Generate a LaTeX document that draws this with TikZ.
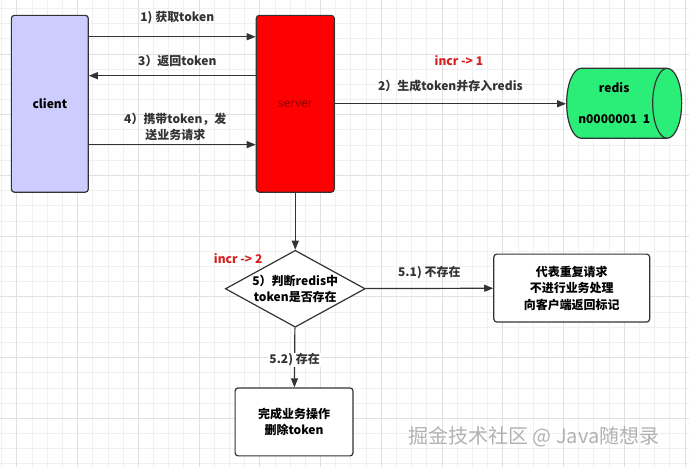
\documentclass[tikz,border=0pt]{standalone}
\usepackage{fontspec}
\setmainfont{Noto Sans CJK SC}
\usetikzlibrary{arrows.meta,positioning,shapes.geometric}
\definecolor{line}{HTML}{333333}
\definecolor{clientc}{HTML}{CCCCFF}
\definecolor{redisc}{HTML}{2BEE78}
\definecolor{incrc}{HTML}{D81E1E}
\definecolor{gridminor}{HTML}{F0F0F0}
\definecolor{gridmajor}{HTML}{E0E0E0}

\begin{document}
\begin{tikzpicture}[x=1pt, y=-1pt, >={Triangle[length=9pt,width=7pt]},
	   font=\fontsize{12}{16.5}\selectfont\bfseries,
	   b/.style={draw=line, line width=1.2pt, rounded corners=3pt, align=center, inner sep=2pt},
	   arr/.style={->, draw=line, line width=1.2pt},
	   lbl/.style={text=line, align=center, inner sep=1pt},
	   inc/.style={text=incrc, inner sep=1pt}]
	  % paper grid
	  \fill[white] (0,0) rectangle (689,467);
	  \foreach \k [evaluate=\k as \gx using 1.3+15.2*\k] in {0,...,45}
	    \draw[gridminor, line width=0.8pt] (\gx,0) -- (\gx,467);
	  \foreach \k [evaluate=\k as \gy using 8+15.2*\k] in {0,...,30}
	    \draw[gridminor, line width=0.8pt] (0,\gy) -- (689,\gy);
	  \foreach \k [evaluate=\k as \gx using 1.3+15.2*\k] in {1,5,...,45}
	    \draw[gridmajor, line width=0.8pt] (\gx,0) -- (\gx,467);
	  \foreach \k [evaluate=\k as \gy using 8+15.2*\k] in {3,7,...,30}
	    \draw[gridmajor, line width=0.8pt] (0,\gy) -- (689,\gy);
	  \useasboundingbox (0,0) rectangle (689,467);

	  \node[b, fill=clientc, minimum width=77, minimum height=177] (client) at (49.5,103.5) {client};
	  \node[b, fill=red, minimum width=78, minimum height=177, right=167pt of client] (server) {\color{red!55!black}\mdseries server};
	  \node[cylinder, draw=line, line width=1.2pt, fill=redisc, minimum width=70, minimum height=115,
	        aspect=0.65, align=center, inner sep=2pt] (redis) at (614.5,103) {redis\\[14pt]n0000001\ \ 1};
	  \node[diamond, draw=line, line width=1.2pt, fill=white, aspect=1.8, inner sep=0pt, minimum width=140,
	        minimum height=77, align=center, below=57pt of server] (judge) {5）判断redis中\\token是否存在};
	  \node[b, fill=white, minimum width=156, minimum height=68] (dup) at (572,288) {代表重复请求\\不进行业务处理\\向客户端返回标记};
	  \node[b, fill=white, minimum width=118, minimum height=68] (done) at (294,422) {完成业务操作\\删除token};

	  \draw[arr] ([yshift=-22pt]client.north east) -- ([yshift=-22pt]client.north east -| server.west)
	    node[lbl, midway, above=11pt, xshift=5pt] {1) 获取token};
	  \draw[arr] ([yshift=-61pt]client.north east -| server.west) -- ([yshift=-61pt]client.north east)
	    node[lbl, midway, above=7pt, xshift=5pt] {3）返回token};
	  \draw[arr] ([yshift=-130pt]client.north east) -- ([yshift=-130pt]client.north east -| server.west)
	    node[lbl, midway, above=2pt, xshift=3pt] {4）携带token，发\\送业务请求};
	  \draw[arr] (server.east) -- (server.east -| redis.west)
	    node[lbl, midway, above=10pt] (l2) {2）生成token并存入redis};
	  \node[inc] (inc1) at (459,60) {incr -> 1};
	  \draw[arr] (server) -- (judge);
	  \node[inc] (inc2) at (238,259) {incr -> 2};
	  \draw[arr] (judge) -- (dup) node[lbl, midway, above=8pt] {5.1) 不存在};
	  \draw[arr] (judge) -- (done) node[lbl, fill=white, pos=0.54] {5.2) 存在};

	  \node[text=gray!60, font=\fontsize{20}{24}\selectfont, anchor=west] (mark) at (405,437) {掘金技术社区 @ Java随想录};
	\end{tikzpicture}
\end{document}
